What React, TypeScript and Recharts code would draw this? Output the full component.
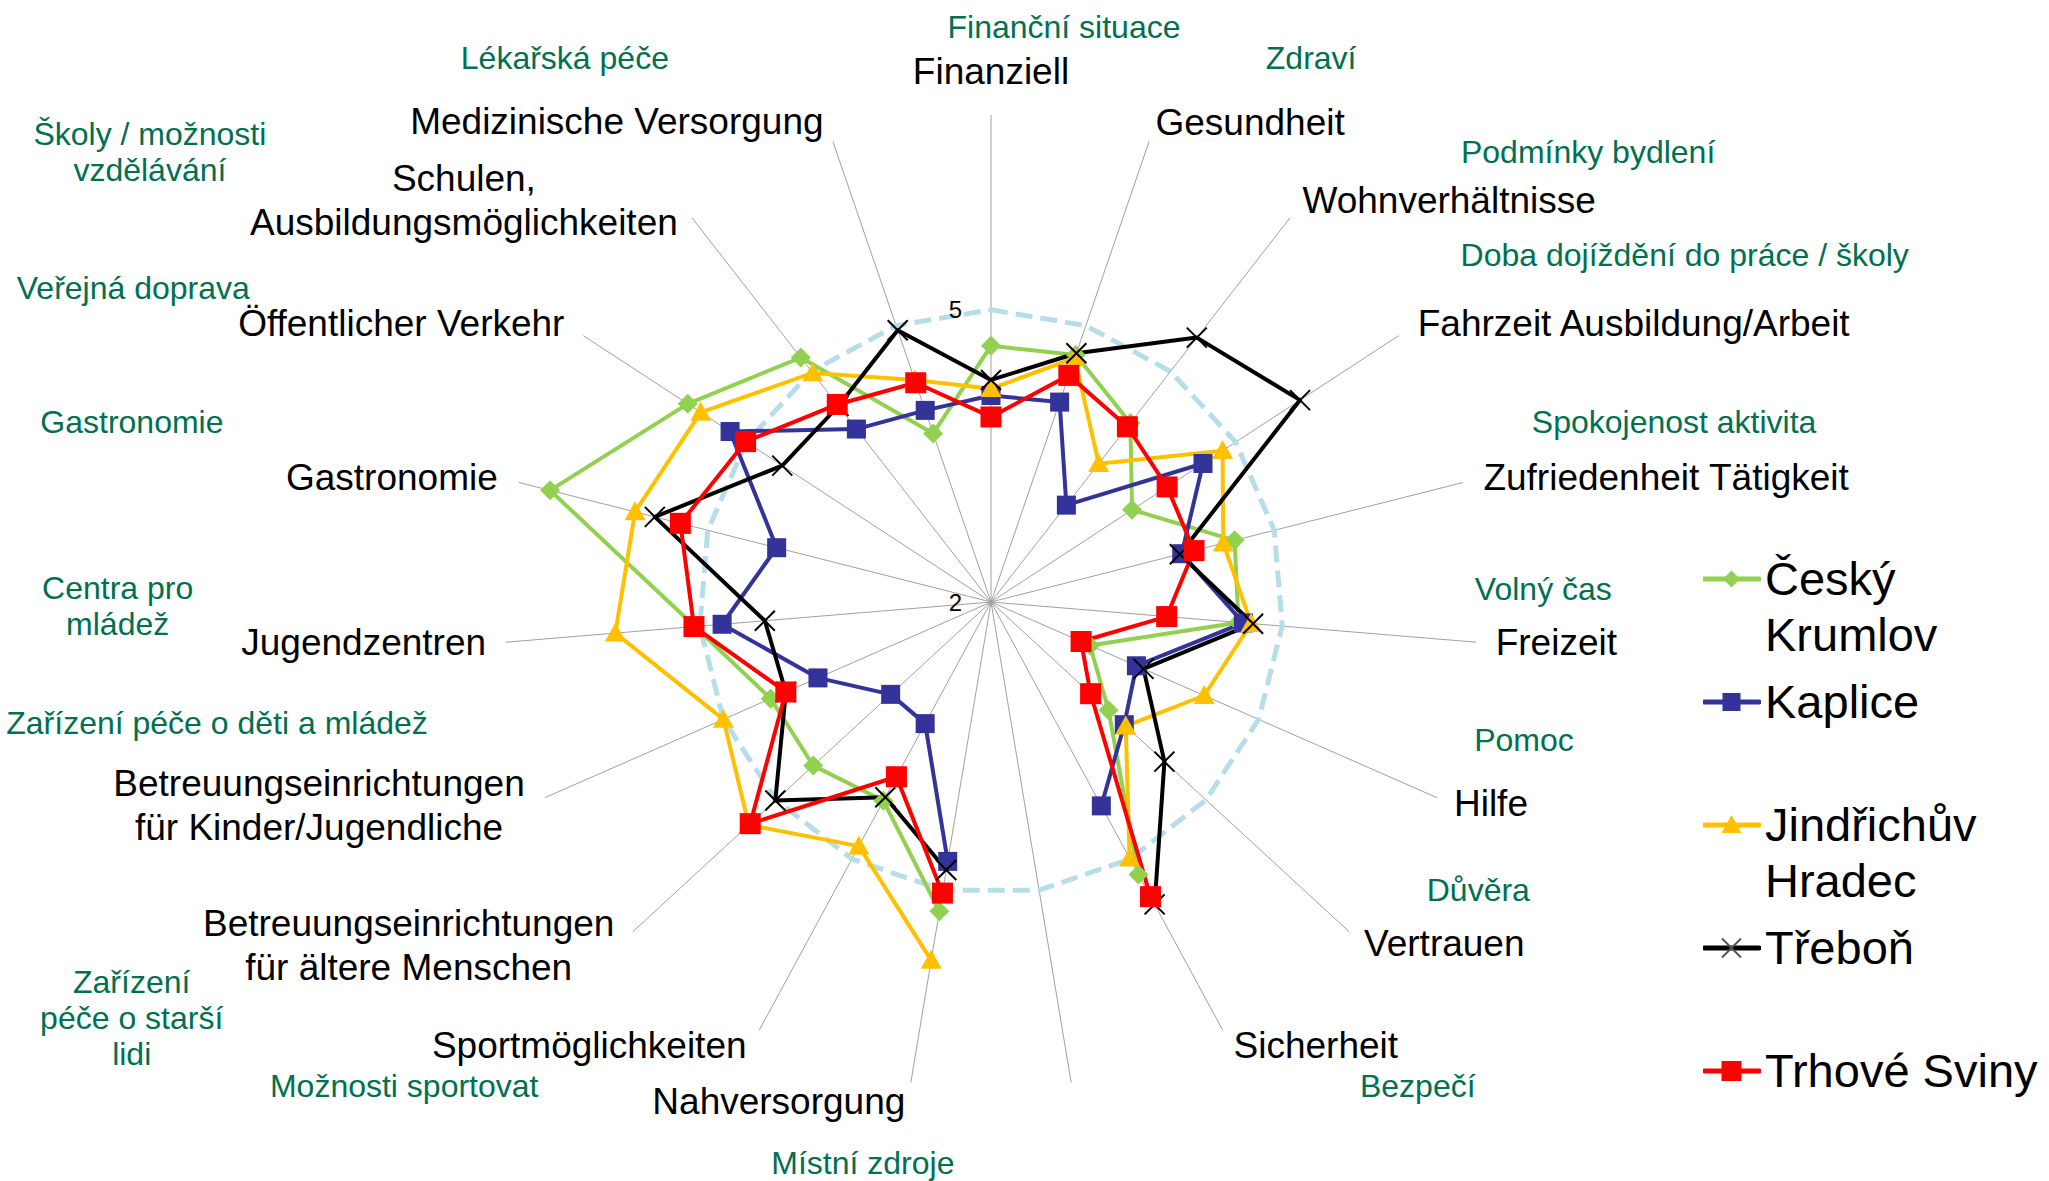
import { RadarChart, Radar, PolarGrid, PolarAngleAxis, PolarRadiusAxis, Legend } from "recharts";

const FONT = '"Liberation Sans", Arial, Helvetica, sans-serif';
const CZ_GREEN = "#00704F";

// axis keys (German labels), index 9 is an unlabeled, empty axis
const categories = [
  "Finanziell",
  "Gesundheit",
  "Wohnverhältnisse",
  "Fahrzeit Ausbildung/Arbeit",
  "Zufriedenheit Tätigkeit",
  "Freizeit",
  "Hilfe",
  "Vertrauen",
  "Sicherheit",
  " ",
  "Nahversorgung",
  "Sportmöglichkeiten",
  "Betreuungseinrichtungen für ältere Menschen",
  "Betreuungseinrichtungen für Kinder/Jugendliche",
  "Jugendzentren",
  "Gastronomie",
  "Öffentlicher Verkehr",
  "Schulen, Ausbildungsmöglichkeiten",
  "Medizinische Versorgung",
];

const germanLines = [
  ["Finanziell"],
  ["Gesundheit"],
  ["Wohnverhältnisse"],
  ["Fahrzeit Ausbildung/Arbeit"],
  ["Zufriedenheit Tätigkeit"],
  ["Freizeit"],
  ["Hilfe"],
  ["Vertrauen"],
  ["Sicherheit"],
  [],
  ["Nahversorgung"],
  ["Sportmöglichkeiten"],
  ["Betreuungseinrichtungen", "für ältere Menschen"],
  ["Betreuungseinrichtungen", "für Kinder/Jugendliche"],
  ["Jugendzentren"],
  ["Gastronomie"],
  ["Öffentlicher Verkehr"],
  ["Schulen,", "Ausbildungsmöglichkeiten"],
  ["Medizinische Versorgung"],
];

const czechLines = [
  ["Finanční situace"],
  ["Zdraví"],
  ["Podmínky bydlení"],
  ["Doba dojíždění do práce / školy"],
  ["Spokojenost aktivita"],
  ["Volný čas"],
  ["Pomoc"],
  ["Důvěra"],
  ["Bezpečí"],
  [],
  ["Místní zdroje"],
  ["Možnosti sportovat"],
  ["Zařízení", "péče o starší", "lidi"],
  ["Zařízení péče o děti a mládež"],
  ["Centra pro", "mládež"],
  ["Gastronomie"],
  ["Veřejná doprava"],
  ["Školy / možnosti", "vzdělávání"],
  ["Lékařská péče"],
];

const ceskyKrumlov = [4.63, 4.68, 4.33, 3.73, 4.58, 4.55, 3.11, 3.64, 5.18, null, 5.22, 4.32, 4.48, 4.47, 5.05, 6.67, 5.72, 5.18, 3.83];
const kaplice = [4.12, 4.17, 3.26, 4.6, 4.02, 4.6, 3.63, 3.86, 4.38, null, 4.7, 3.42, 3.4, 3.94, 4.77, 4.27, 5.2, 4.25, 4.08];
const jindrichuvHradec = [4.19, 4.65, 3.8, 4.84, 4.46, 4.68, 4.39, 3.88, 4.99, null, 5.73, 4.85, 5.38, 5.0, 5.87, 5.77, 5.56, 4.98, 4.41];
const trebon = [4.28, 4.7, 5.44, 5.79, 4.0, 4.7, 3.71, 4.42, 5.53, null, 4.79, 4.28, 5.01, 4.3, 4.33, 5.56, 4.56, 4.55, 4.95];
const trhoveSviny = [3.9, 4.46, 4.28, 4.16, 4.15, 3.81, 3.01, 3.39, 5.44, null, 5.03, 4.04, 5.36, 4.3, 5.06, 5.29, 5.01, 4.57, 4.38];
const referenceLevel = [5, 5, 5, 5, 5, 5, 5, 5, 5, 5, 5, 5, 5, 5, 5, 5, 5, 5, 5];

const radiusTicks = [2, 5];

// label placement: centre of the text block relative to the end of each spoke
const germanOffset = [
  [0, -44], [101, -19], [159, -17], [235, -12], [203, -5], [80, 0], [54, 6], [95, 12], [93, 15], [0, 0],
  [-132, 19], [-170, 15], [-224, 14], [-226, 8], [-142, 0], [-127, -5], [-182, -12], [-228, -17], [-216, -20],
];
const czechOffset = [
  [73, -88], [162, -83], [298, -66], [286, -81], [211, -60], [67, -53], [87, -58], [129, -42], [195, 56], [0, 0],
  [-48, 81], [-355, 56], [-501, 86], [-328, -75], [-388, -36], [-387, -60], [-450, -48], [-542, -66], [-268, -83],
];

type Shape = "diamond" | "square" | "triangle" | "cross";

const series: {
  key: string;
  name: string;
  legend: string[];
  values: (number | null)[];
  color: string;
  shape: Shape;
  size: number;
}[] = [
  { key: "ck", name: "Český Krumlov", legend: ["Český", "Krumlov"], values: ceskyKrumlov, color: "#92D050", shape: "diamond", size: 20 },
  { key: "kap", name: "Kaplice", legend: ["Kaplice"], values: kaplice, color: "#333399", shape: "square", size: 19 },
  { key: "jh", name: "Jindřichův Hradec", legend: ["Jindřichův", "Hradec"], values: jindrichuvHradec, color: "#FFC000", shape: "triangle", size: 21 },
  { key: "tre", name: "Třeboň", legend: ["Třeboň"], values: trebon, color: "#000000", shape: "cross", size: 20 },
  { key: "ts", name: "Trhové Sviny", legend: ["Trhové Sviny"], values: trhoveSviny, color: "#FF0000", shape: "square", size: 21 },
];

const data = categories.map((key, i) => {
  const row: Record<string, string | number | null> = { key, ref: referenceLevel[i] };
  series.forEach((s) => {
    row[s.key] = s.values[i];
  });
  return row;
});

function marker(shape: Shape, x: number, y: number, s: number, color: string) {
  const h = s / 2;
  if (shape === "diamond") {
    return <polygon points={`${x},${y - h} ${x + h},${y} ${x},${y + h} ${x - h},${y}`} fill={color} />;
  }
  if (shape === "square") {
    return <rect x={x - h} y={y - h} width={s} height={s} fill={color} />;
  }
  if (shape === "triangle") {
    return <polygon points={`${x},${y - h} ${x + h},${y + h * 0.8} ${x - h},${y + h * 0.8}`} fill={color} />;
  }
  return (
    <path d={`M${x - h},${y - h}L${x + h},${y + h}M${x - h},${y + h}L${x + h},${y - h}`} stroke={color} strokeWidth={2} fill="none" />
  );
}

const isGap = (pt: any) => !pt || pt.value === null || pt.value === undefined || !Number.isFinite(pt.x) || !Number.isFinite(pt.y);

// line through the points, broken at empty values (wraps from the last point back to the first)
function gapPath(points: any[]) {
  const segs: any[][] = [[]];
  points.forEach((pt) => {
    if (!isGap(pt)) segs[segs.length - 1].push(pt);
    else if (segs[segs.length - 1].length) segs.push([]);
  });
  if (points.length && !isGap(points[0])) segs[segs.length - 1].push(points[0]);
  return segs
    .filter((s) => s.length > 1)
    .map((s) => s.map((pt, i) => `${i ? "L" : "M"}${pt.x},${pt.y}`).join(""))
    .join("");
}

const makeShape = (color: string) => (p: any) => (
  <path d={gapPath(p.points || [])} stroke={color} strokeWidth={4} strokeLinejoin="round" fill="none" />
);

const makeDot = (values: (number | null)[], shape: Shape, color: string, size: number) => (p: any) => {
  const { cx, cy, index } = p;
  if (!Number.isFinite(cx) || !Number.isFinite(cy) || values[index] === null || values[index] === undefined) {
    return <g key={`d-${index}`} />;
  }
  return <g key={`d-${index}`}>{marker(shape, cx, cy, size, color)}</g>;
};

const AngleTick = (props: any) => {
  const { x, y, payload } = props;
  const i = typeof props.index === "number" ? props.index : categories.indexOf(payload.value);
  const a = (payload.coordinate * Math.PI) / 180;
  const bx = x - 8 * Math.cos(a);
  const by = y + 8 * Math.sin(a);
  const de = germanLines[i] || [];
  const cz = czechLines[i] || [];
  const [gdx, gdy] = germanOffset[i];
  const [cdx, cdy] = czechOffset[i];
  return (
    <g>
      {de.map((line, k) => (
        <text
          key={`de-${k}`}
          x={bx + gdx}
          y={by + gdy + (k - (de.length - 1) / 2) * 44}
          textAnchor="middle"
          dominantBaseline="central"
          fontFamily={FONT}
          fontSize={37}
          fill="#000"
        >
          {line}
        </text>
      ))}
      {cz.map((line, k) => (
        <text
          key={`cz-${k}`}
          x={bx + cdx}
          y={by + cdy + (k - (cz.length - 1) / 2) * 36}
          textAnchor="middle"
          dominantBaseline="central"
          fontFamily={FONT}
          fontSize={32}
          fill={CZ_GREEN}
        >
          {line}
        </text>
      ))}
    </g>
  );
};

const RadiusTick = ({ x, y, payload }: any) => (
  <text x={x - 29} y={y} textAnchor="end" dominantBaseline="central" fontFamily={FONT} fontSize={24} fill="#000">
    {payload.value}
  </text>
);

const renderLegend = () => (
  <div style={{ fontFamily: FONT, fontSize: 47, lineHeight: "56px", color: "#000", whiteSpace: "nowrap" }}>
    {series.map((s) => (
      <div key={s.key} style={{ height: 123, display: "flex", alignItems: "flex-start" }}>
        <svg width={58} height={56} style={{ flex: "none" }}>
          <line x1={1} y1={28} x2={56} y2={28} stroke={s.color} strokeWidth={5} strokeLinecap="round" />
          {marker(s.shape, 28.5, 28, s.shape === "diamond" ? 17 : s.size - 1, s.shape === "cross" ? "#555" : s.color)}
        </svg>
        <div style={{ marginLeft: 4 }}>
          {s.legend.map((line) => (
            <div key={line}>{line}</div>
          ))}
        </div>
      </div>
    ))}
  </div>
);

export default function App() {
  return (
    <div style={{ position: "absolute", left: 0, top: 0, width: 2049, height: 1181, background: "#fff" }}>
      <RadarChart
        width={2049}
        height={1181}
        data={data}
        cx={991}
        cy={602}
        outerRadius={487}
        margin={{ top: 0, right: 0, bottom: 0, left: 0 }}
      >
        <PolarGrid gridType="polygon" polarRadius={[]} stroke="#A0A0A0" strokeWidth={1} />
        <PolarAngleAxis dataKey="key" tick={AngleTick} tickLine={false} axisLine={false} />
        <PolarRadiusAxis
          angle={90}
          type="number"
          domain={[2, 7]}
          ticks={radiusTicks}
          axisLine={false}
          tickLine={false}
          tick={RadiusTick}
        />
        <Radar
          dataKey="ref"
          name="5"
          stroke="#B7DEE8"
          strokeWidth={5}
          strokeDasharray="17 8"
          fillOpacity={0}
          dot={false}
          legendType="none"
          isAnimationActive={false}
        />
        {series.map((s) => (
          <Radar
            key={s.key}
            dataKey={s.key}
            name={s.name}
            stroke={s.color}
            strokeWidth={4}
            fillOpacity={0}
            shape={makeShape(s.color)}
            dot={makeDot(s.values, s.shape, s.color, s.size)}
            activeDot={false}
            isAnimationActive={false}
          />
        ))}
        <Legend
          content={renderLegend}
          layout="vertical"
          align="right"
          verticalAlign="top"
          wrapperStyle={{ position: "absolute", left: 1703, top: 551, width: 346 }}
        />
      </RadarChart>
    </div>
  );
}
